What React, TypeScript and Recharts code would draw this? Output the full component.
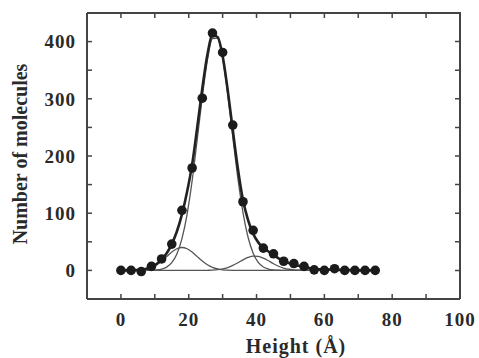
import { ComposedChart, Line, Scatter, XAxis, YAxis } from "recharts";

// measured histogram (dots)
const heights = [0, 3, 6, 9, 12, 15, 18, 21, 24, 27, 30, 33, 36, 39, 42, 45, 48, 51, 54, 57, 60, 63, 66, 69, 72, 75];
const counts = [0, 0, -2, 7, 20, 46, 105, 179, 301, 415, 381, 254, 120, 70, 39, 29, 16, 12, 7, 1, 0, 3, 0, 0, 0, 0];

const fitX = [
  0, 1.5, 3, 4.5, 6, 7.5, 9, 10.5, 12, 13.5, 15, 16.5, 18, 19.5, 21, 22.5, 24, 25.5, 27, 28.5, 30, 31.5, 33, 34.5, 36,
  37.5, 39, 40.5, 42, 43.5, 45, 46.5, 48, 49.5, 51, 52.5, 54, 55.5, 57, 58.5, 60, 61.5, 63, 64.5, 66, 67.5, 69, 70.5,
  72, 73.5, 75,
];
const totalFit = [
  0, 0, 0, 0.5, 1, 3, 6, 11, 19, 30, 46, 68, 98, 137, 185, 250, 318, 377, 411, 408, 375, 315, 245, 178, 123,
  88, 64, 49, 39, 33, 27, 21, 16, 13, 10, 8, 6, 4, 3, 2, 2, 1.5, 1, 1, 0.5, 0.5, 0, 0,
  0, 0, 0,
];
const mainPeak = [
  null, null, null, null, null, 0, 0.3, 0.8, 2.3, 5.8, 13.5, 28.6, 55.5, 97.7, 156.5, 228.4, 303, 367, 405, 406, 371, 308, 233, 161, 101,
  58, 30, 14, 6, 2.4, 0.9, 0.3, 0, 0, 0, 0, 0, 0, 0, 0, 0, 0, 0, 0, 0, 0, 0, 0,
  0, 0, 0,
];
const lowPeak = [
  null, null, null, null, null, 2.5, 5.3, 9.8, 16.3, 24.1, 32, 37.8, 40, 37.8, 32, 24.1, 16.3, 9.8, 5.3, 2.5, 1.1, 0.4, 0.1, 0, 0,
  0, 0, 0, 0, 0, 0, 0, 0, 0, 0, 0, 0, 0, 0, 0, 0, 0, 0, 0, 0, 0, 0, 0,
  0, 0, 0,
];
const highPeak = [
  null, null, null, null, null, 0, 0, 0, 0, 0, 0, 0, 0, 0, 0, 0, 0, 0.2, 0.5, 1.2, 2.6, 5, 8.7, 13.4, 18.4,
  22.6, 24.8, 24.4, 21.4, 16.8, 11.7, 7.3, 4.1, 2, 0.9, 0.4, 0.1, 0, 0, 0, 0, 0, 0, 0, 0, 0, 0, 0,
  0, 0, 0,
];

const xTicks = [0, 10, 20, 30, 40, 50, 60, 70, 80, 90, 100];
const yTicks = [0, 50, 100, 150, 200, 250, 300, 350, 400];
const X_MIN = -10, X_MAX = 100, Y_MIN = -50, Y_MAX = 450;
const xLabel = (v: number) => (v % 20 === 0 ? String(v) : "");
const yLabel = (v: number) => (v % 100 === 0 ? String(v) : "");

const points = heights.map((x, i) => ({ x, y: counts[i] }));
const curve = (vals: (number | null)[]) => fitX.map((x, i) => ({ x, y: vals[i] }));

// top + right sides of the box and their inward ticks, drawn as plain line series
const boxEdge = [{ x: X_MIN, y: Y_MAX }, { x: X_MAX, y: Y_MAX }, { x: X_MAX, y: Y_MIN }];
const topTicks = xTicks.flatMap((v) => [{ x: v, y: Y_MAX }, { x: v, y: Y_MAX - 8.7 }, { x: v, y: null }]);
const rightTicks = yTicks.flatMap((v) => [{ x: X_MAX, y: v }, { x: X_MAX - 1.47, y: v }, { x: X_MAX - 1.47, y: null }]);

const ink = "#2a2a2a";
const frame = { stroke: "#444", strokeWidth: 2 };
const inTick = { stroke: "#444", strokeWidth: 1.5 };
const tickFont = { fill: ink, fontSize: 19, fontWeight: "bold", fontFamily: "Liberation Serif", letterSpacing: 1 };
const titleFont = { fontFamily: "Liberation Serif", fontWeight: "bold" as const, fontSize: 20, color: ink };

const Dot = (p: any) => <circle cx={p.cx} cy={p.cy} r={4.8} fill="#1b1b1b" />;

export default function App() {
  return (
    <div style={{ position: "absolute", left: 0, top: 0, width: 479, height: 358, background: "#fff" }}>
      <ComposedChart width={479} height={358} margin={{ top: 13, right: 19, bottom: 29, left: 0 }}>
        {/* negative tickSize turns the ticks inwards */}
        <XAxis xAxisId="b" dataKey="x" type="number" domain={[X_MIN, X_MAX]} ticks={xTicks} interval={0}
          tickFormatter={xLabel} tickLine={inTick} axisLine={frame} tickSize={-5} tickMargin={19} tick={tickFont} />
        <YAxis yAxisId="l" type="number" domain={[Y_MIN, Y_MAX]} ticks={yTicks} interval={0} width={87}
          tickFormatter={yLabel} tickLine={inTick} axisLine={frame} tickSize={-5} tickMargin={16} tick={tickFont} />

        <Line xAxisId="b" yAxisId="l" data={boxEdge} dataKey="y" type="linear" stroke="#444" strokeWidth={2}
          dot={false} activeDot={false} legendType="none" isAnimationActive={false} />
        <Line xAxisId="b" yAxisId="l" data={topTicks} dataKey="y" type="linear" stroke="#444" strokeWidth={1.5}
          dot={false} activeDot={false} legendType="none" isAnimationActive={false} />
        <Line xAxisId="b" yAxisId="l" data={rightTicks} dataKey="y" type="linear" stroke="#444" strokeWidth={1.5}
          dot={false} activeDot={false} legendType="none" isAnimationActive={false} />

        <Line xAxisId="b" yAxisId="l" data={curve(mainPeak)} dataKey="y" type="monotone" stroke="#555" strokeWidth={1.3}
          dot={false} isAnimationActive={false} />
        <Line xAxisId="b" yAxisId="l" data={curve(lowPeak)} dataKey="y" type="monotone" stroke="#555" strokeWidth={1.3}
          dot={false} isAnimationActive={false} />
        <Line xAxisId="b" yAxisId="l" data={curve(highPeak)} dataKey="y" type="monotone" stroke="#555" strokeWidth={1.3}
          dot={false} isAnimationActive={false} />
        <Line xAxisId="b" yAxisId="l" data={curve(totalFit)} dataKey="y" type="monotone" stroke="#222" strokeWidth={2.6}
          dot={false} isAnimationActive={false} />
        <Scatter xAxisId="b" yAxisId="l" data={points} dataKey="y" shape={Dot} isAnimationActive={false} />
      </ComposedChart>

      <div style={{ ...titleFont, position: "absolute", left: 20, top: 154, transform: "translate(-50%, -50%) rotate(-90deg)", whiteSpace: "nowrap" }}>
        Number of molecules
      </div>
      <div style={{ ...titleFont, position: "absolute", left: 296, top: 346, transform: "translate(-50%, -50%)", whiteSpace: "nowrap", letterSpacing: 1 }}>
        Height (Å)
      </div>
    </div>
  );
}
